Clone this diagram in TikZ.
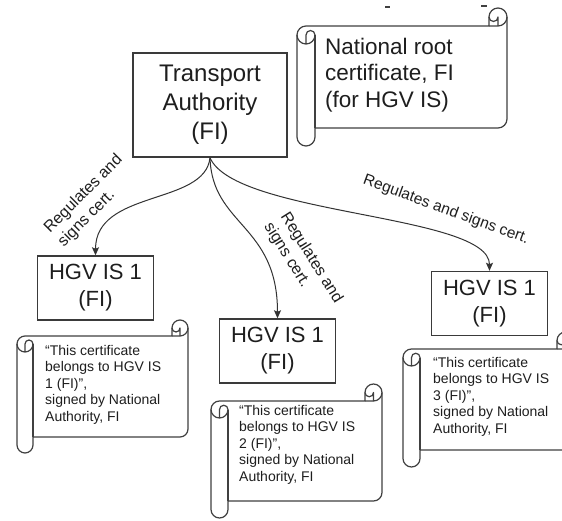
\documentclass[tikz,border=0pt]{standalone}
\usepackage{fontspec}
\setmainfont{Liberation Sans}
\usetikzlibrary{arrows.meta}
\definecolor{boxc}{HTML}{3A3A3A}
\definecolor{txt}{HTML}{1E1E1E}
\definecolor{arrc}{HTML}{333333}
\definecolor{scrc}{HTML}{404040}
\tikzset{
  box/.style={draw=boxc, line width=1.4pt, fill=white, text=txt, align=center, inner sep=0pt},
  tabox/.style={box, font=\fontsize{24}{29}\selectfont, minimum width=154pt, minimum height=104pt},
  hgvbox/.style={box, font=\fontsize{22}{27}\selectfont, minimum width=116pt, minimum height=64pt},
  scrolltext/.style={anchor=north west, align=left, inner sep=0pt, text=txt, font=\fontsize{14}{16.5}\selectfont},
  roottext/.style={anchor=north west, align=left, inner sep=0pt, text=txt, font=\fontsize{22.5}{26.5}\selectfont},
  lbl/.style={align=left, inner sep=0pt, text=txt, font=\fontsize{16}{19.5}\selectfont},
  arr/.style={draw=arrc, line width=1pt, -{Stealth[length=8pt,width=7pt,inset=1.5pt]}},
  scrollline/.style={draw=scrc, line width=1.2pt, line join=round}
}
% #1 left, #2 top, #3 right, #4 bottom (pixels, top-down), #5 roll size
\newcommand\drawscroll[5]{%
  \filldraw[scrollline, fill=white] (#1,{-#2-1.5*#5}) arc[start angle=180,end angle=90,radius={#5/2}]
    -- ({#3-#5},{-#2-#5}) -- ({#3-#5},{-#2-#5/2}) arc[start angle=180,end angle=0,radius={#5/2}]
    -- (#3,{-#4+1.5*#5}) arc[start angle=0,end angle=-90,radius={#5/2}]
    -- ({#1+#5},{-#4+#5}) -- ({#1+#5},{-#4+#5/2}) arc[start angle=0,end angle=-180,radius={#5/2}] -- cycle;
  \draw[scrollline] ({#3-#5},{-#2-#5}) -- ({#3-#5/2},{-#2-#5}) arc[start angle=-90,end angle=0,radius={#5/2}];
  \draw[scrollline] ({#3-#5/2},{-#2-#5}) -- ({#3-#5/2},{-#2-#5/2}) arc[start angle=0,end angle=-180,radius={#5/4}];
  \draw[scrollline] ({#1+#5/2},{-#2-2*#5}) -- ({#1+#5/2},{-#2-1.5*#5}) arc[start angle=180,end angle=0,radius={#5/4}] arc[start angle=0,end angle=-180,radius={#5/2}];
  \draw[scrollline] ({#1+#5},{-#2-1.5*#5}) -- ({#1+#5},{-#4+#5});
}
\begin{document}
\begin{tikzpicture}[x=1pt,y=1pt]
\useasboundingbox[fill=white] (0,0) rectangle (562,-521);
\begin{scope}
\clip (0,0) rectangle (562,-521);
% small marks at top
\draw[scrc, line width=1.2pt] (385,-7) -- (390,-7);
\draw[scrc, line width=1.2pt] (481,-6) -- (487,-6);
% scrolls
\drawscroll{297}{8}{507}{146}{18}
\drawscroll{17}{320}{188}{453}{16}
\drawscroll{211}{384}{382}{518}{17}
\drawscroll{403}{332}{574}{467}{17}
\end{scope}
\node[roottext] (roottxt) at (325,-37.5) {National root\\certificate, FI\\(for HGV IS)};
\node[scrolltext] (cert1) at (45,-345) {“This certificate\\belongs to HGV IS\\1 (FI)”,\\signed by National\\Authority, FI};
\node[scrolltext] (cert2) at (239,-405) {“This certificate\\belongs to HGV IS\\2 (FI)”,\\signed by National\\Authority, FI};
\node[scrolltext] (cert3) at (433,-357) {“This certificate\\belongs to HGV IS\\3 (FI)”,\\signed by National\\Authority, FI};
% boxes
\node[tabox] (ta) at (210,-105) {Transport\\Authority\\(FI)};
\node[hgvbox] (h1) at (95.5,-288) {HGV IS 1\\(FI)};
\node[hgvbox] (h2) at (277.5,-351) {HGV IS 1\\(FI)};
\node[hgvbox] (h3) at (489.5,-303.5) {HGV IS 1\\(FI)};
% connectors
\draw[arr] (ta.south) .. controls +(-5,-48) and +(0,66) .. (h1.north);
\draw[arr] (ta.south) .. controls +(2,-68) and +(0,94) .. (h2.north);
\draw[arr] (ta.south) .. controls +(25,-58) and +(0,57) .. (h3.north);
% labels
\node[lbl, rotate=45] (l1) at (90.5,-201) {Regulates and\\signs cert.};
\node[lbl, rotate=-58] (l2) at (303,-263) {Regulates and\\signs cert.};
\node[lbl, rotate=-20, font=\fontsize{15.5}{19}\selectfont] (l3) at (446,-210) {Regulates and signs cert.};
\end{tikzpicture}
\end{document}
